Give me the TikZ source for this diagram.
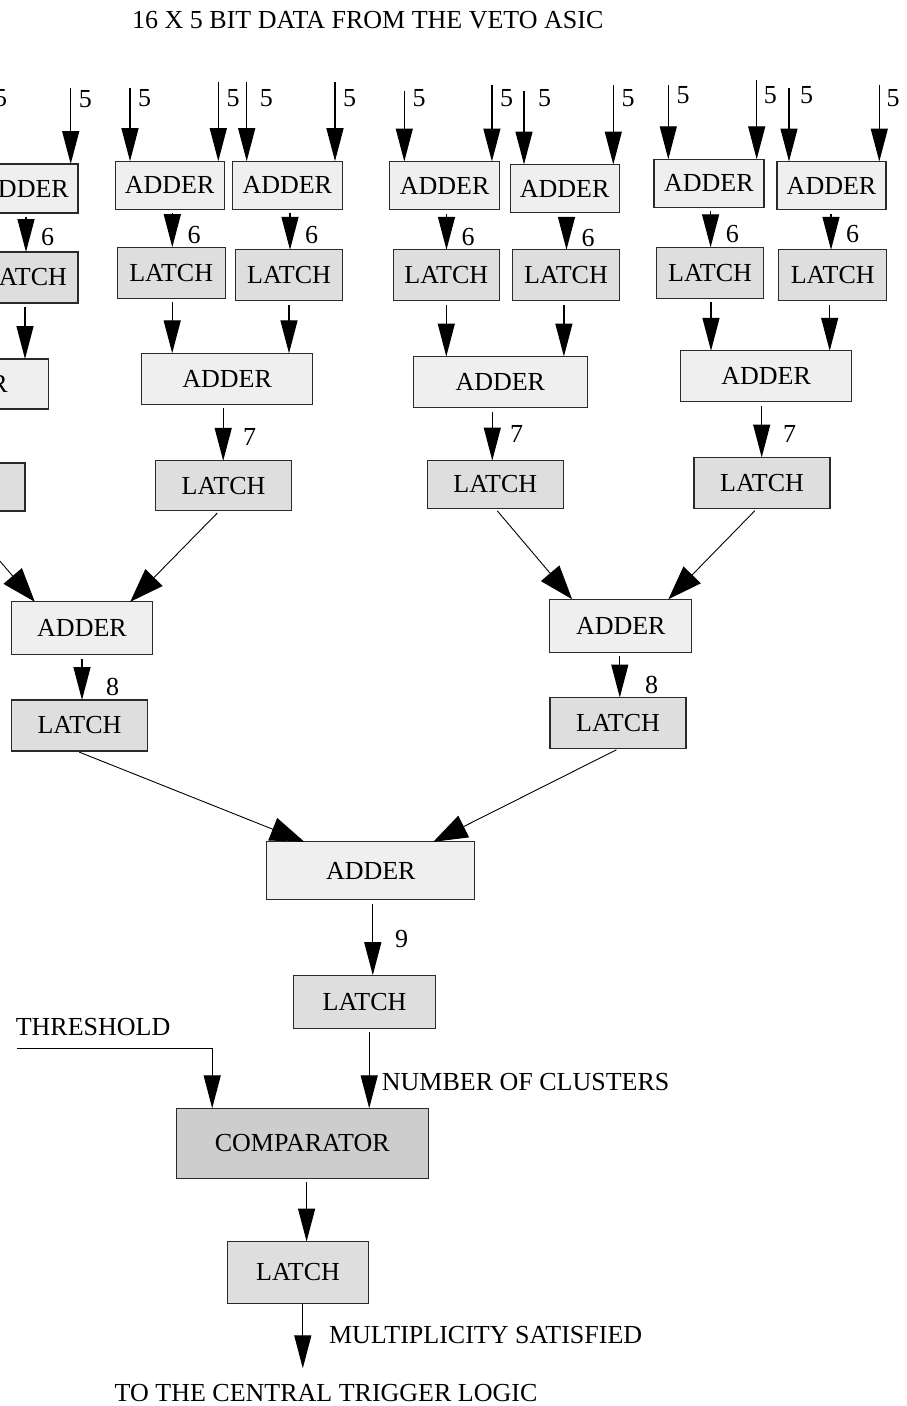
\documentclass[tikz,border=0pt]{standalone}
\usepackage{fontspec}
\setmainfont{Liberation Serif}
\usetikzlibrary{arrows.meta,calc}
\definecolor{addfill}{HTML}{EFEFEF}
\definecolor{latfill}{HTML}{DEDEDE}
\definecolor{cmpfill}{HTML}{CDCDCD}
\definecolor{edge}{HTML}{2A2A2A}

% vertical connector from the bottom of #2 (shifted by #1) to the top of #3
\newcommand\vlink[3]{%
  \path ([xshift=#1pt]#2.south) coordinate (#2#3);
  \draw[arr, shorten <=4pt] (#2#3) -- (#2#3 |- #3.north);}

\begin{document}
\begin{tikzpicture}[x=1pt,y=-1pt,
  every node/.style={font=\fontsize{26}{30}\selectfont},
  blk/.style={draw=edge, line width=1.2pt, inner sep=0pt, outer sep=0pt},
  addbox/.style={blk, fill=addfill},
  latbox/.style={blk, fill=latfill},
  cmpbox/.style={blk, fill=cmpfill},
  num/.style={inner sep=0pt, anchor=base west},
  arr/.style={line width=1.3pt, -{Triangle[length=33pt 0 0,width=17pt 0 0]}},
  darr/.style={line width=0.9pt, shorten <=3pt, -{Triangle[length=34pt 0 0,width=24pt 0 0]}},
]
\useasboundingbox (0,0) rectangle (907,1406);
\fill[white] (0,0) rectangle (907,1406);
\clip (0,0) rectangle (907,1406);

% ---- title
\node[num] (title) at (132,28.3) {16 X 5 BIT DATA FROM THE VETO ASIC};

% ---- first-level adders
\node[addbox, minimum width=110pt, minimum height=48pt] (A0) at (-93,186)     {ADDER};
\node[addbox, minimum width=108pt, minimum height=49pt] (A1) at (24,188.5)    {ADDER};
\node[addbox, minimum width=109pt, minimum height=48pt] (A2) at (169.7,185.2) {ADDER};
\node[addbox, minimum width=110pt, minimum height=48pt] (A3) at (287.3,185.2) {ADDER};
\node[addbox, minimum width=110pt, minimum height=48pt] (A4) at (444.6,185.5) {ADDER};
\node[addbox, minimum width=109pt, minimum height=48pt] (A5) at (564.6,188.5) {ADDER};
\node[addbox, minimum width=110pt, minimum height=48pt] (A6) at (708.9,183.3) {ADDER};
\node[addbox, minimum width=109pt, minimum height=48pt] (A7) at (831.5,185.5) {ADDER};

% ---- first-level latches
\node[latbox, minimum width=107pt, minimum height=51pt] (L0) at (-92,275)     {LATCH};
\node[latbox, minimum width=106pt, minimum height=51pt] (L1) at (25,277.5)    {LATCH};
\node[latbox, minimum width=108pt, minimum height=51pt] (L2) at (171.2,272.7) {LATCH};
\node[latbox, minimum width=107pt, minimum height=51pt] (L3) at (289,275.3)   {LATCH};
\node[latbox, minimum width=106pt, minimum height=51pt] (L4) at (446.3,275.3) {LATCH};
\node[latbox, minimum width=107pt, minimum height=51pt] (L5) at (565.9,275.3) {LATCH};
\node[latbox, minimum width=107pt, minimum height=51pt] (L6) at (710,272.8)   {LATCH};
\node[latbox, minimum width=108pt, minimum height=51pt] (L7) at (832.7,275.3) {LATCH};

% ---- second-level adders and latches
\node[addbox, minimum width=171pt, minimum height=50pt] (B1) at (-37,384)     {ADDER};
\node[addbox, minimum width=171pt, minimum height=51pt] (B2) at (227.2,378.8) {ADDER};
\node[addbox, minimum width=174pt, minimum height=51pt] (B3) at (500.3,382)   {ADDER};
\node[addbox, minimum width=171pt, minimum height=51pt] (B4) at (766.2,376.3) {ADDER};
\node[latbox, minimum width=136pt, minimum height=48pt] (M1) at (-43,487)     {LATCH};
\node[latbox, minimum width=136pt, minimum height=50pt] (M2) at (223.5,485.8) {LATCH};
\node[latbox, minimum width=136pt, minimum height=48pt] (M3) at (495.3,484.5) {LATCH};
\node[latbox, minimum width=136pt, minimum height=51pt] (M4) at (762,483)     {LATCH};

% ---- third level
\node[addbox, minimum width=141pt, minimum height=53pt] (C1) at (82,628.3)    {ADDER};
\node[addbox, minimum width=142pt, minimum height=53pt] (C2) at (620.8,625.7) {ADDER};
\node[latbox, minimum width=136pt, minimum height=51pt] (N1) at (79.5,725.5)  {LATCH};
\node[latbox, minimum width=136pt, minimum height=51pt] (N2) at (618,723)     {LATCH};

% ---- final stages
\node[addbox, minimum width=208pt, minimum height=58pt] (D) at (370.8,870.8)  {ADDER};
\node[latbox, minimum width=142pt, minimum height=53pt] (E) at (364.5,1001.7) {LATCH};
\node[cmpbox, minimum width=252pt, minimum height=70pt] (F) at (302.2,1143.3) {COMPARATOR};
\node[latbox, minimum width=141pt, minimum height=62pt] (G) at (298,1272.5)   {LATCH};

% ---- 5-bit inputs: name/x/top/label offset/label baseline/target
\foreach \nm/\x/\t/\dx/\by/\tg in {
    a/-133/88/8/106/A0, b/-45/88/8/106/A0,
    c/-14/88/8/106/A1, d/70.7/88/8/107/A1,
    e/130/88.3/8/106/A2, f/218.3/81.7/8/106/A2,
    g/246.7/81.7/13/106/A3, h/335/81.7/8/106/A3,
    i/404.3/90.7/8/106/A4, j/491.9/85/8/106/A4,
    k/524/90.7/14/106/A5, l/613.3/85/8/106/A5,
    m/668.3/85/8/103/A6, n/756.7/80/7/103/A6,
    o/789/88/11/103/A7, p/879.3/85/7/106/A7}{
  \coordinate (in\nm) at (\x,\t);
  \draw[arr] (in\nm) -- (in\nm |- \tg.north);
  \node[num] (lab\nm) at (\x+\dx,\by) {5};
}

% ---- adder to latch (6 bits)
\vlink{0}{A0}{L0}
\vlink{2}{A1}{L1}
\vlink{2.6}{A2}{L2}
\vlink{2.7}{A3}{L3}
\vlink{1.9}{A4}{L4}
\vlink{1.9}{A5}{L5}
\vlink{1.7}{A6}{L6}
\vlink{-0.5}{A7}{L7}
\foreach \nm/\x/\by in {s1/41/245, s2/187.3/243.5, s3/305/243.5, s4/461.5/245,
    s5/581.5/246.5, s6/725.6/242, s7/846/242}{
  \node[num] (\nm) at (\x,\by) {6};
}

% ---- latch to second-level adder
\vlink{0}{L0}{B1}
\vlink{0}{L1}{B1}
\vlink{1}{L2}{B2}
\vlink{0}{L3}{B2}
\vlink{0}{L4}{B3}
\vlink{-2}{L5}{B3}
\vlink{1}{L6}{B4}
\vlink{-3}{L7}{B4}

% ---- second-level adder to latch (7 bits)
\vlink{-5}{B1}{M1}
\vlink{-4}{B2}{M2}
\vlink{-8}{B3}{M3}
\vlink{-4.5}{B4}{M4}
\node[num] (w2) at (243,445) {7};
\node[num] (w3) at (510,442) {7};
\node[num] (w4) at (783,442) {7};

% ---- into third-level adders
\draw[darr] (M1.south) -- ($(C1.north west)+(23.3,0)$);
\draw[darr] ([xshift=-4pt]M2.south) -- ($(C1.north east)+(-22.3,0)$);
\draw[darr] (M3.south) -- ($(C2.north west)+(22.3,0)$);
\draw[darr] ([xshift=-5pt]M4.south) -- ($(C2.north east)+(-23.4,0)$);

% ---- third-level adder to latch (8 bits)
\vlink{0}{C1}{N1}
\vlink{-1}{C2}{N2}
\node[num] (e1) at (106,695) {8};
\node[num] (e2) at (645,693) {8};

% ---- into the final adder
\draw[darr] ([xshift=-3pt]N1.south) -- ($(D.north west)+(37.5,0)$);
\draw[darr] ([xshift=1pt]N2.south) -- ($(D.north east)+(-41.5,0)$);

% ---- final adder to latch (9 bits)
\vlink{2}{D}{E}
\node[num] (nine) at (395,947) {9};

% ---- number of clusters into comparator
\vlink{4.7}{E}{F}
\node[num] (ncl) at (381.7,1090) {NUMBER OF CLUSTERS};

% ---- threshold input
\node[num] (thrtxt) at (15.6,1035) {THRESHOLD};
\coordinate (thr) at (17,1048.3);
\path ([xshift=36pt]F.north west) coordinate (thrin);
\draw[arr] (thr) -| (thrin);

% ---- comparator to output latch
\vlink{4.4}{F}{G}

% ---- output
\path ([xshift=4.8pt]G.south) coordinate (gs);
\coordinate (out) at (302.8,1368.3);
\draw[arr] (gs) -- (out);
\node[num] (mult) at (328.8,1343.3) {MULTIPLICITY SATISFIED};
\node[num] (dest) at (114.5,1401.7) {TO THE CENTRAL TRIGGER LOGIC};
\end{tikzpicture}
\end{document}
